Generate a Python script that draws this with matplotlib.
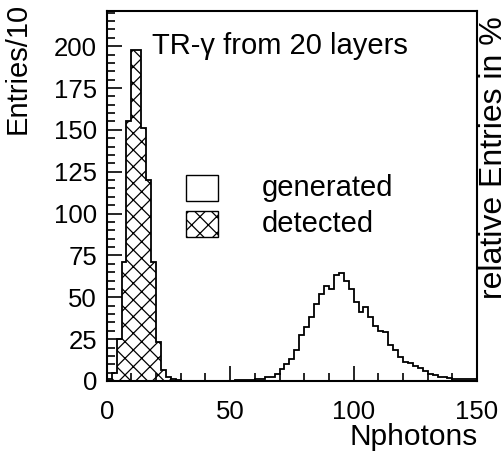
import numpy as np
import matplotlib
matplotlib.use("Agg")
import matplotlib.pyplot as plt
from matplotlib.patches import Rectangle

plt.rcParams['font.family'] = ['Liberation Sans', 'DejaVu Sans']
plt.rcParams['hatch.linewidth'] = 0.9

# ---- data ----
bin_width = 2
x_range = (0, 150)

generated = [0]*26 + [
    0.3, 0.3, 0.8, 0.8, 1, 1, 2.2, 2.2, 4, 7,
    10, 13, 18.5, 27.5, 32.4, 38.4, 45.8, 51.7, 56.9, 54.7,
    63.2, 64.6, 59.9, 54.7, 47.3, 41.4, 44.3, 38, 33, 30,
    29.4, 21.5, 18.5, 14.5, 11.5, 10.5, 9, 7.6, 6.2, 4.2,
    3.6, 2.6, 2.2, 1.6, 1.3, 1.3, 1, 1, 1]

detected = [1, 5, 25, 71, 155, 198, 198, 151, 120, 71,
            23, 6.5, 2.4, 1, 0.5] + [0]*60

title_text = "TR-\u03b3 from 20 layers"
legend_labels = ["generated", "detected"]
xlabel = "Nphotons"
ylabel_left = "Entries/10"
ylabel_right = "relative Entries in %"
xticks = [0, 50, 100, 150]
yticks = [0, 25, 50, 75, 100, 125, 150, 175, 200]

edges = np.arange(x_range[0], x_range[1] + bin_width, bin_width)

W, H = 503, 451
fig = plt.figure(figsize=(W/100, H/100), dpi=100)
ax = fig.add_axes([106.7/W, 1-381/H, (477-106.7)/W, (381-11)/H])

ax.stairs(detected, edges, fill=True, facecolor='white', edgecolor='black',
          hatch='xx', linewidth=0)
ax.stairs(detected, edges, color='black', linewidth=1.3)
ax.stairs(generated, edges, color='black', linewidth=1.3)

ax.set_xlim(*x_range)
ax.set_ylim(0, 221)
ax.set_xticks(xticks)
ax.set_xticks(np.arange(0, 151, 10), minor=True)
ax.set_yticks(yticks)
ax.set_yticks(np.arange(0, 221, 5), minor=True)
ax.tick_params(which='both', direction='in', top=False, right=False,
               width=1.2, labelsize=18.5, colors='black')
ax.tick_params(which='major', length=11)
ax.tick_params(which='minor', length=5.5)
ax.tick_params(axis='y', pad=7)
ax.tick_params(axis='x', pad=14)
for s in ax.spines.values():
    s.set_linewidth(1.5)

fig.text(152/W, 1-46/H, title_text, fontsize=21, va='center', ha='left')

# legend boxes
box_ax = fig.transFigure
fig.patches.append(Rectangle((186/W, 1-201/H), 32/W, 26/H, transform=box_ax,
                             facecolor='white', edgecolor='black', linewidth=1.0))
fig.patches.append(Rectangle((186/W, 1-237/H), 32/W, 26/H, transform=box_ax,
                             facecolor='white', edgecolor='black', linewidth=1.0,
                             hatch='xx'))
fig.text(262/W, 1-188/H, legend_labels[0], fontsize=21, va='center', ha='left')
fig.text(262/W, 1-224/H, legend_labels[1], fontsize=21, va='center', ha='left')

fig.text(478/W, 1-437/H, xlabel, fontsize=21.5, va='center', ha='right')
fig.text(18/W, 1-3/H, ylabel_left, fontsize=21, va='top', ha='center', rotation=90)
fig.text(494/W, 1-299/H, ylabel_right, fontsize=23, va='bottom', ha='center', rotation=90)

fig.savefig("out.png", dpi=100)
